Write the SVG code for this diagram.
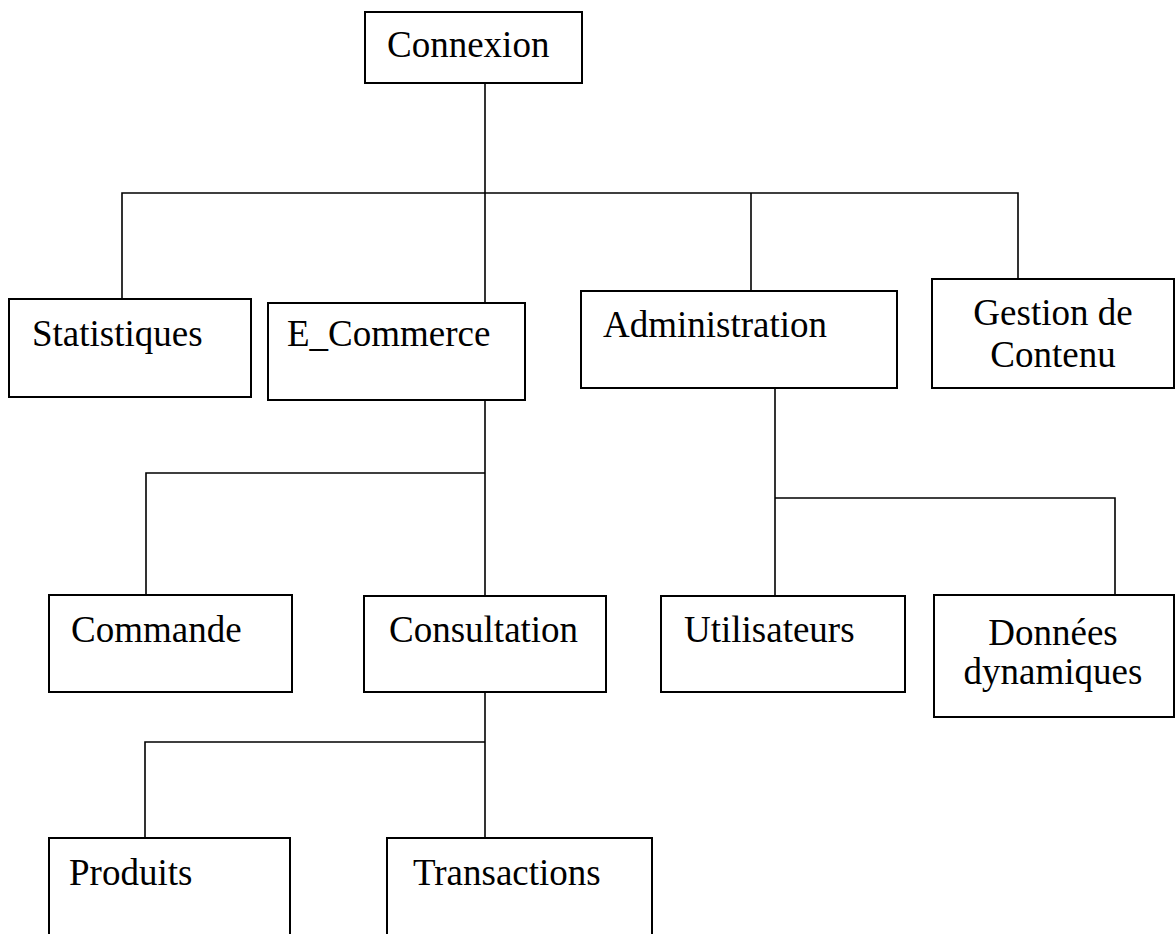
<svg xmlns="http://www.w3.org/2000/svg" width="1175" height="934" viewBox="0 0 1175 934">
  <style>
    .box { fill: #ffffff; stroke: #000000; stroke-width: 2; }
    .lbl { font-family: "Liberation Serif", "Times New Roman", serif; font-size: 37px; fill: #000000; }
    .mid { text-anchor: middle; }
    #connectors path { fill: none; stroke: #000000; stroke-width: 1.6; }
  </style>
  <rect width="1175" height="934" fill="#ffffff"/>

  <!-- tree links -->
  <g id="connectors">
    <path d="M485 83 V193"/>
    <path d="M122 299 V193 H1018 V279"/>
    <path d="M485 193 V303"/>
    <path d="M751 193 V291"/>
    <path d="M485 400 V596"/>
    <path d="M146 595 V473 H485"/>
    <path d="M775 388 V596"/>
    <path d="M775 498 H1115 V595"/>
    <path d="M485 692 V838"/>
    <path d="M145 838 V742 H485"/>
  </g>

  <g id="connexion">
    <rect class="box" x="365" y="12" width="217" height="71"/>
    <text class="lbl" x="387" y="57">Connexion</text>
  </g>
  <g id="statistiques">
    <rect class="box" x="9" y="299" width="242" height="98"/>
    <text class="lbl" x="32" y="346">Statistiques</text>
  </g>
  <g id="e-commerce">
    <rect class="box" x="268" y="303" width="257" height="97"/>
    <text class="lbl" x="287" y="346">E_Commerce</text>
  </g>
  <g id="administration">
    <rect class="box" x="581" y="291" width="316" height="97"/>
    <text class="lbl" x="603" y="337">Administration</text>
  </g>
  <g id="gestion-contenu">
    <rect class="box" x="932" y="279" width="242" height="109"/>
    <text class="lbl mid" x="1053" y="325">Gestion de</text>
    <text class="lbl mid" x="1053" y="367">Contenu</text>
  </g>
  <g id="commande">
    <rect class="box" x="49" y="595" width="243" height="97"/>
    <text class="lbl" x="71" y="642">Commande</text>
  </g>
  <g id="consultation">
    <rect class="box" x="364" y="596" width="242" height="96"/>
    <text class="lbl" x="389" y="642">Consultation</text>
  </g>
  <g id="utilisateurs">
    <rect class="box" x="661" y="596" width="244" height="96"/>
    <text class="lbl" x="684" y="642">Utilisateurs</text>
  </g>
  <g id="donnees-dynamiques">
    <rect class="box" x="934" y="595" width="240" height="122"/>
    <text class="lbl mid" x="1053" y="645">Données</text>
    <text class="lbl mid" x="1053" y="684">dynamiques</text>
  </g>
  <g id="produits">
    <rect class="box" x="49" y="838" width="241" height="110"/>
    <text class="lbl" x="69" y="885">Produits</text>
  </g>
  <g id="transactions">
    <rect class="box" x="387" y="838" width="265" height="110"/>
    <text class="lbl" x="413" y="885">Transactions</text>
  </g>
</svg>
